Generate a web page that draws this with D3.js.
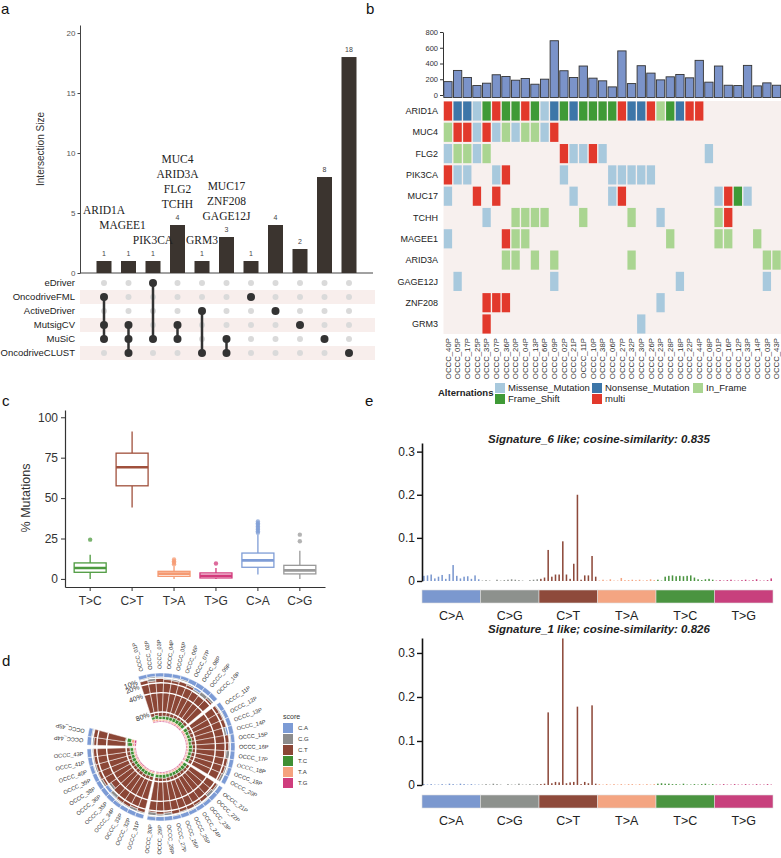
<!DOCTYPE html>
<html><head><meta charset="utf-8">
<script src="https://cdn.jsdelivr.net/npm/d3@7/dist/d3.min.js"></script>
<style>html,body{margin:0;padding:0;background:#fff}</style>
</head><body>
<script>
// ================= DATA =================
// ---- Panel a (UpSet) ----
const upsetSets = ["eDriver","OncodriveFML","ActiveDriver","MutsigCV","MuSiC","OncodriveCLUST"];
const upsetSizes = [1,1,1,4,1,3,1,4,2,8,18];
const upsetMembers = [
  ["OncodriveFML","MutsigCV","MuSiC"],
  ["MutsigCV","MuSiC","OncodriveCLUST"],
  ["eDriver","MuSiC"],
  ["MutsigCV","MuSiC"],
  ["ActiveDriver","OncodriveCLUST"],
  ["MuSiC","OncodriveCLUST"],
  ["OncodriveFML"],["ActiveDriver"],["MutsigCV"],["MuSiC"],["OncodriveCLUST"]];
const upsetGenes = [["ARID1A"],["MAGEE1"],["PIK3CA"],["MUC4","ARID3A","FLG2","TCHH"],["GRM3"],["MUC17","ZNF208","GAGE12J"],[],[],[],[],[]];

// ---- Panel b (oncoplot) ----
const oncoSamples = ["OCCC_40P","OCCC_05P","OCCC_17P","OCCC_25P","OCCC_35P","OCCC_07P","OCCC_36P","OCCC_20P","OCCC_04P","OCCC_13P",
  "OCCC_66P","OCCC_09P","OCCC_02P","OCCC_21P","OCCC_11P","OCCC_10P","OCCC_38P","OCCC_06P","OCCC_27P","OCCC_32P",
  "OCCC_30P","OCCC_26P","OCCC_23P","OCCC_28P","OCCC_18P","OCCC_22P","OCCC_44P","OCCC_08P","OCCC_01P","OCCC_16P",
  "OCCC_12P","OCCC_33P","OCCC_14P","OCCC_03P","OCCC_43P"];
const oncoTotals = [170,312,222,120,150,257,235,188,210,137,201,689,308,222,368,214,180,103,560,145,
  372,278,192,231,261,218,440,163,368,124,120,376,116,154,124];
const oncoTicks = [0,200,400,600,800];
const oncoGenes = ["ARID1A","MUC4","FLG2","PIK3CA","MUC17","TCHH","MAGEE1","ARID3A","GAGE12J","ZNF208","GRM3"];
// M=Missense, N=Nonsense, I=In_Frame, F=Frame_Shift, X=multi, .=none
const oncoCodes = [
  "XNNMFXFFXFMNFNFFFFXNNXIFNXX........",
  "IXXMXMIMIIMX.......................",
  "MIIMI.......XMMXM..........M.......",
  "XMM..MX.....M....MMMMM.............",
  "M..X.X.......M...MX.........MXFM...",
  "....M..IIII...I....I..M.....IX.....",
  "M.....XII..............I....II..I..",
  "......II.I.I.......I.............II",
  ".M.........M............M........M.",
  "....XXX...............M............",
  "....X...............M.............."];
const altCodes = ["M","N","I","F","X"];
const altNames = ["Missense_Mutation","Nonsense_Mutation","In_Frame","Frame_Shift","multi"];
const altColors = ["#a8c9dd","#3d76a8","#aad591","#3f9a36","#e2392c"];

// ---- Panel c (boxplots) ----
const boxCats = ["T>C","C>T","T>A","T>G","C>A","C>G"];
const boxLow = [0,44.2,0,0,2.7,0];
const boxQ1 = [4.1,57.6,1.6,0.6,7.2,3.1];
const boxMed = [6.8,69.1,3.3,2.0,11.5,5.3];
const boxQ3 = [9.9,77.8,4.7,3.7,16.0,8.4];
const boxHigh = [15,91.2,7.8,6.8,27.4,17.5];
const boxOutliers = [[24.3],[],[9,10,11,12],[9.5],[28.5,29.5,30.5,31.5,32.5,33.5,34.5,35.5],[23.3,27.4]];
const boxColors = ["#4d9a3f","#a0503c","#f59a72","#d2397b","#7f9dd6","#9a9a9a"];
const boxTicks = [0,25,50,75,100];

// ---- Panel d (circular stacked bars) ----
const dSamples = ["OCCC_01P","OCCC_02P","OCCC_03P","OCCC_04P","OCCC_05P","OCCC_06P","OCCC_07P","OCCC_08P","OCCC_09P","OCCC_10P",
  "OCCC_11P","OCCC_12P","OCCC_13P","OCCC_14P","OCCC_15P","OCCC_16P","OCCC_17P","OCCC_18P","OCCC_19P","OCCC_20P",
  "OCCC_21P","OCCC_22P","OCCC_23P","OCCC_24P","OCCC_25P","OCCC_26P","OCCC_27P","OCCC_28P","OCCC_29P","OCCC_30P",
  "OCCC_31P","OCCC_32P","OCCC_33P","OCCC_34P","OCCC_35P","OCCC_36P","OCCC_38P","OCCC_39P","OCCC_40P","OCCC_41P",
  "OCCC_43P","OCCC_44P","OCCC_45P"];
const dGapAfter = ["OCCC_10P","OCCC_20P","OCCC_30P","OCCC_43P"];
const dCA = [8,7,8,9,8,7,10,16,12,10, 9,8,9,15,8,9,10,9,8,11, 9,10,8,9,8,9,8,10,9,8, 9,10,9,8,13,18,10,9,8,9, 9,9,8];
const dCG = [4,9,3,4,6,5,4,5,10,5, 4,5,3,6,4,4,8,4,6,5, 5,7,4,5,4,4,4,6,5,9, 4,6,4,5,7,8,5,4,6,4, 4,5,4];
const dCT = [76,70,78,75,74,76,73,66,64,72, 74,75,76,66,77,74,69,75,74,72, 73,70,76,74,76,75,76,71,74,71, 75,72,74,75,68,62,73,74,74,75, 75,69,66];
const dTC = [6,8,6,7,7,7,8,8,9,8, 8,7,7,8,6,8,8,7,7,7, 8,8,7,7,7,7,7,8,7,7, 7,7,8,7,7,7,7,8,7,7, 7,10,12];
const dTA = [4,4,3,3,3,3,3,3,3,3, 3,3,3,3,3,3,3,3,3,3, 3,3,3,3,3,3,3,3,3,3, 3,3,3,3,3,3,3,3,3,3, 3,4,6];
const dTG = [2,2,2,2,2,2,2,2,2,2, 2,2,2,2,2,2,2,2,2,2, 2,2,2,2,2,2,2,2,2,2, 2,2,2,2,2,2,2,2,2,2, 2,3,4];
const dKeys = ["C.A","C.G","C.T","T.C","T.A","T.G"];
const dColors = ["#7c9bd5","#8c8c8c","#8b4636","#3f8f33","#f5a27e","#cf3d7d"];
const dGrid = [0.1,0.2,0.4,0.8];

// ---- Panel e (96-context signatures) ----
const sigGroups = ["C>A","C>G","C>T","T>A","T>C","T>G"];
const sigColors = ["#7b98cf","#8d918d","#8e4a3b","#f4a582","#4a9440","#c8407d"];
const sig6 = [
  0.012,0.013,0.015,0.006,0.010,0.014,0.005,0.016,0.037,0.012,0.006,0.010,0.011,0.005,0.013,0.004,
  0.001,0.002,0.001,0.000,0.003,0.001,0.002,0.003,0.004,0.003,0.002,0.001,0.000,0.002,0.003,0.004,
  0.005,0.008,0.072,0.010,0.015,0.015,0.092,0.015,0.005,0.040,0.200,0.003,0.013,0.013,0.058,0.010,
  0.001,0.003,0.001,0.004,0.001,0.001,0.007,0.002,0.002,0.003,0.002,0.003,0.001,0.002,0.004,0.002,
  0.003,0.001,0.010,0.012,0.013,0.011,0.012,0.011,0.012,0.013,0.008,0.004,0.002,0.004,0.005,0.003,
  0.001,0.002,0.001,0.002,0.003,0.001,0.001,0.002,0.003,0.001,0.002,0.004,0.001,0.001,0.002,0.006];
const sig1 = [
  0.002,0.001,0.002,0.001,0.001,0.002,0.001,0.003,0.002,0.001,0.003,0.002,0.001,0.002,0.001,0.001,
  0.001,0.002,0.001,0.003,0.002,0.001,0.000,0.002,0.001,0.001,0.003,0.001,0.001,0.002,0.001,0.002,
  0.002,0.003,0.165,0.004,0.007,0.006,0.333,0.004,0.006,0.007,0.178,0.002,0.007,0.004,0.181,0.003,
  0.002,0.001,0.002,0.001,0.002,0.001,0.002,0.001,0.002,0.002,0.001,0.002,0.001,0.002,0.001,0.002,
  0.003,0.004,0.003,0.003,0.002,0.002,0.001,0.003,0.001,0.001,0.002,0.001,0.002,0.003,0.001,0.002,
  0.001,0.001,0.002,0.001,0.001,0.002,0.001,0.001,0.002,0.001,0.001,0.002,0.001,0.001,0.002,0.001];
const sigTitles = ["Signature_6 like; cosine-similarity: 0.835","Signature_1 like; cosine-similarity: 0.826"];
const sigTicks = [0,0.1,0.2,0.3];

// ================= DRAWING =================
const SANS = '"Liberation Sans", Arial, Helvetica, sans-serif';
const SERIF = '"Liberation Serif", "Times New Roman", serif';
const svg = d3.select("body").append("svg").attr("width",781).attr("height",858)
  .attr("font-family",SANS).style("display","block");
svg.append("rect").attr("width",781).attr("height",858).attr("fill","#fff");

function styleAxis(g, size, color, lineColor){
  g.attr("font-family",SANS);
  g.select(".domain").attr("stroke",lineColor);
  g.selectAll(".tick line").attr("stroke",lineColor);
  g.selectAll(".tick text").attr("font-size",size).attr("fill",color);
}
function panelLabel(t,x,y){ svg.append("text").attr("x",x).attr("y",y).attr("font-size",15).attr("fill","#111").text(t); }
panelLabel("a",1,14); panelLabel("b",366,14); panelLabel("c",2,406); panelLabel("e",365,406); panelLabel("d",2,666);

// ---------- Panel a ----------
(function(){
  const g = svg.append("g");
  const y = d3.scaleLinear().domain([0,20.67]).range([273,25]);
  const x = d3.scalePoint().domain(d3.range(upsetSizes.length)).range([104,349]);
  const row = d3.scalePoint().domain(upsetSets).range([283,353]);
  g.selectAll("rect.shade").data(upsetSets.filter((s,i)=>i%2===1)).join("rect")
    .attr("x",80).attr("width",295).attr("y",s=>row(s)-7).attr("height",14).attr("fill","#f8eeec");
  const ax = g.append("g").attr("transform","translate(80,0)")
    .call(d3.axisLeft(y).tickValues([0,5,10,15,20]).tickSize(2.5).tickSizeOuter(0).tickPadding(2));
  styleAxis(ax,8,"#555","#444");
  g.append("line").attr("x1",80).attr("x2",373).attr("y1",y(0)).attr("y2",y(0)).attr("stroke","#444");
  g.append("text").attr("transform",`translate(44,${(y(0)+y(20.67))/2}) rotate(-90)`)
    .attr("text-anchor","middle").attr("font-size",10).attr("fill","#333").text("Intersection Size");
  g.selectAll("rect.bar").data(upsetSizes).join("rect")
    .attr("x",(d,i)=>x(i)-7.5).attr("width",15).attr("y",d=>y(d)).attr("height",d=>y(0)-y(d)).attr("fill","#3b342f");
  g.selectAll("text.cnt").data(upsetSizes).join("text")
    .attr("x",(d,i)=>x(i)).attr("y",d=>y(d)-5).attr("text-anchor","middle").attr("font-size",7).attr("fill","#444").text(d=>d);
  const lift = [2,1,0,0,0,0];
  upsetGenes.forEach((genes,i)=>{
    const base = y(upsetSizes[i]) - 5 - 15*((lift[i]||0)+1);
    genes.forEach((gn,k)=>{
      g.append("text").attr("x",x(i)+(i===1?-6:0)).attr("y",base-15*(genes.length-1-k)+3)
        .attr("text-anchor","middle").attr("font-family",SERIF).attr("font-size",11.5).attr("fill","#222").text(gn);
    });
  });
  g.selectAll("text.rl").data(upsetSets).join("text")
    .attr("x",75).attr("y",s=>row(s)).attr("dy","0.35em").attr("text-anchor","end")
    .attr("font-size",9.5).attr("fill","#222").text(s=>s);
  upsetMembers.forEach((mem,i)=>{
    upsetSets.forEach(s=>{
      const on = mem.includes(s);
      g.append("circle").attr("cx",x(i)).attr("cy",row(s)).attr("r",on?4:3).attr("fill",on?"#333":"#dadada");
    });
    if(mem.length>1){
      const ys = mem.map(s=>row(s));
      g.append("line").attr("x1",x(i)).attr("x2",x(i)).attr("y1",d3.min(ys)).attr("y2",d3.max(ys))
        .attr("stroke","#333").attr("stroke-width",2.5);
    }
  });
})();

// ---------- Panel b ----------
(function(){
  const g = svg.append("g");
  const x = d3.scaleBand().domain(oncoSamples).range([443.5,781]).paddingInner(0.14).paddingOuter(0.03);
  const y = d3.scaleLinear().domain([0,800]).range([95,32]);
  const rowY = d3.scaleBand().domain(oncoGenes).range([101,334]).paddingInner(0.1).paddingOuter(0.02);
  const ax = g.append("g").attr("transform","translate(443,0)")
    .call(d3.axisLeft(y).tickValues(oncoTicks).tickSize(3).tickSizeOuter(0).tickPadding(2));
  styleAxis(ax,7.5,"#333","#333");
  g.selectAll("rect.tmb").data(oncoTotals).join("rect")
    .attr("x",(d,i)=>x(oncoSamples[i])).attr("width",x.bandwidth())
    .attr("y",d=>y(d)).attr("height",d=>y(0)-y(d)+2.5)
    .attr("fill","#7b93c9").attr("stroke","#333").attr("stroke-width",0.9);
  g.append("rect").attr("x",443.5).attr("y",101).attr("width",781-443.5).attr("height",233).attr("fill","#f7f0ee");
  const color = d3.scaleOrdinal().domain(altCodes).range(altColors);
  oncoGenes.forEach((gn,r)=>{
    const cells = oncoCodes[r].split("").map((c,i)=>({c,i})).filter(d=>d.c!==".");
    g.selectAll(null).data(cells).join("rect")
      .attr("x",d=>x(oncoSamples[d.i])).attr("width",x.bandwidth())
      .attr("y",rowY(gn)).attr("height",rowY.bandwidth()).attr("fill",d=>color(d.c));
  });
  g.selectAll("text.gn").data(oncoGenes).join("text")
    .attr("x",438).attr("y",d=>rowY(d)+rowY.bandwidth()/2).attr("dy","0.35em").attr("text-anchor","end")
    .attr("font-size",9).attr("fill","#222").text(d=>d);
  g.selectAll("text.smp").data(oncoSamples).join("text")
    .attr("transform",d=>`translate(${x(d)+x.bandwidth()/2},338) rotate(-90)`)
    .attr("dy","0.35em").attr("text-anchor","end").attr("font-size",7.8).attr("fill","#333").text(d=>d);
  g.append("text").attr("x",438).attr("y",396).attr("font-size",9.5).attr("font-weight","bold").attr("fill","#222").text("Alternations");
  const posX = [495,592,693,495,592], posY = [388,388,388,399,399];
  altNames.forEach((n,i)=>{
    g.append("rect").attr("x",posX[i]).attr("y",posY[i]-5).attr("width",10).attr("height",10).attr("fill",altColors[i]);
    g.append("text").attr("x",posX[i]+13).attr("y",posY[i]).attr("dy","0.35em").attr("font-size",9.5).attr("fill","#222").text(n);
  });
})();

// ---------- Panel c ----------
(function(){
  const g = svg.append("g");
  const x = d3.scaleBand().domain(boxCats).range([65,325]).paddingOuter(0.1);
  const y = d3.scaleLinear().domain([-5,104.5]).range([587,410]);
  const axY = g.append("g").attr("transform","translate(65,0)")
    .call(d3.axisLeft(y).tickValues(boxTicks).tickSize(4).tickSizeOuter(0).tickPadding(3));
  styleAxis(axY,12,"#333","#333");
  axY.select(".domain").attr("stroke-width",1.2);
  const axX = g.append("g").attr("transform","translate(0,587)")
    .call(d3.axisBottom(x).tickSize(4).tickSizeOuter(0).tickPadding(5));
  styleAxis(axX,12,"#333","#333");
  axX.select(".domain").attr("stroke-width",1.2);
  g.append("text").attr("transform","translate(30,498) rotate(-90)").attr("text-anchor","middle")
    .attr("font-size",12.5).attr("fill","#333").text("% Mutations");
  const bw = 32;
  boxCats.forEach((c,i)=>{
    const cx = x(c)+x.bandwidth()/2, col = boxColors[i];
    g.append("line").attr("x1",cx).attr("x2",cx).attr("y1",y(boxLow[i])).attr("y2",y(boxQ1[i])).attr("stroke",col).attr("stroke-width",1.3);
    g.append("line").attr("x1",cx).attr("x2",cx).attr("y1",y(boxHigh[i])).attr("y2",y(boxQ3[i])).attr("stroke",col).attr("stroke-width",1.3);
    g.append("rect").attr("x",cx-bw/2).attr("width",bw).attr("y",y(boxQ3[i])).attr("height",y(boxQ1[i])-y(boxQ3[i]))
      .attr("fill","#fff").attr("stroke",col).attr("stroke-width",1.3);
    g.append("line").attr("x1",cx-bw/2).attr("x2",cx+bw/2).attr("y1",y(boxMed[i])).attr("y2",y(boxMed[i])).attr("stroke",col).attr("stroke-width",2.6);
    g.selectAll(null).data(boxOutliers[i]).join("circle").attr("cx",cx).attr("cy",d=>y(d)).attr("r",2.2)
      .attr("fill",col).attr("fill-opacity",0.75);
  });
})();

// ---------- Panel d ----------
(function(){
  const cx=161, cy=747;
  const g = svg.append("g").attr("transform",`translate(${cx},${cy})`);
  const r = d3.scaleLinear().domain([0,1]).range([74,25]);
  const start=-18, end=285, gap=3;
  const step = (end-start-gap*dGapAfter.length)/dSamples.length;
  const rad = a=>a*Math.PI/180;
  let a = start;
  const vals = [dCA,dCG,dCT,dTC,dTA,dTG];
  const arc = d3.arc();
  dSamples.forEach((s,i)=>{
    const a0=a, a1=a+step; a=a1; if(dGapAfter.includes(s)) a+=gap;
    let cum=0;
    vals.forEach((arr,k)=>{
      const v = arr[i]/100;
      g.append("path").attr("d",arc({innerRadius:r(cum+v),outerRadius:r(cum),startAngle:rad(a0),endAngle:rad(a1)}))
        .attr("fill",dColors[k]).attr("stroke","#fff").attr("stroke-width",0.5);
      cum+=v;
    });
    const mid=(a0+a1)/2;
    const flip = mid>=180 && mid<270;
    g.append("text").attr("transform",`rotate(${mid-90}) translate(78,0)${flip?" rotate(180)":""}`)
      .attr("text-anchor",flip?"end":"start").attr("dy","0.35em").attr("font-size",5.6).attr("fill","#333").text(s);
  });
  dGrid.forEach(p=>{
    g.append("path").attr("d",d3.arc()({innerRadius:r(p),outerRadius:r(p),startAngle:rad(start),endAngle:rad(end)}))
      .attr("fill","none").attr("stroke","#fff").attr("stroke-width",1.4);
    g.append("text").attr("transform",`rotate(${start-2-90}) translate(${r(p)},0) rotate(90)`)
      .attr("text-anchor","end").attr("dy","0.35em").attr("font-size",7).attr("fill","#333").text(d3.format(".0%")(p));
  });
  const lg = svg.append("g");
  lg.append("text").attr("x",283).attr("y",719).attr("font-size",7).attr("fill","#333").text("score");
  dKeys.forEach((k,i)=>{
    lg.append("rect").attr("x",283).attr("y",723+i*11).attr("width",10).attr("height",10).attr("fill",dColors[i]);
    lg.append("text").attr("x",298).attr("y",728+i*11).attr("dy","0.35em").attr("font-size",6).attr("fill","#333").text(k);
  });
})();

// ---------- Panel e ----------
(function(){
  const cfgs = [
    {vals:sig6, title:sigTitles[0], y0:581, y1:443, dmax:0.32, titleY:443, stripY:590, labY:620},
    {vals:sig1, title:sigTitles[1], y0:785, y1:638, dmax:0.334, titleY:633, stripY:795, labY:825}];
  const gx = d3.scaleBand().domain(sigGroups).range([422,773]);
  const idx = d3.range(96);
  const bx = d3.scaleBand().domain(idx).range([422,773]);
  cfgs.forEach(cf=>{
    const g = svg.append("g");
    const y = d3.scaleLinear().domain([0,cf.dmax]).range([cf.y0,cf.y1]);
    g.selectAll("rect.b").data(cf.vals).join("rect")
      .attr("x",(d,i)=>bx(i)+bx.bandwidth()*0.3).attr("width",bx.bandwidth()*0.42)
      .attr("y",d=>y(d)).attr("height",d=>y(0)-y(d)).attr("fill",(d,i)=>sigColors[Math.floor(i/16)]);
    const ax = g.append("g").attr("transform","translate(422,0)")
      .call(d3.axisLeft(y).tickValues(sigTicks).tickSize(5).tickSizeOuter(0).tickPadding(2)
        .tickFormat(d=>d===0?"0":d3.format(".1f")(d)));
    styleAxis(ax,12,"#222","#111");
    ax.select(".domain").attr("stroke-width",1.6); ax.selectAll(".tick line").attr("stroke-width",1.4);
    g.selectAll("rect.s").data(sigGroups).join("rect")
      .attr("x",d=>gx(d)).attr("width",gx.bandwidth()).attr("y",cf.stripY).attr("height",13)
      .attr("fill",(d,i)=>sigColors[i]).attr("stroke","#ddd").attr("stroke-width",0.6);
    g.selectAll("text.s").data(sigGroups).join("text")
      .attr("x",d=>gx(d)+gx.bandwidth()/2).attr("y",cf.labY).attr("text-anchor","middle")
      .attr("font-size",12.5).attr("fill","#222").text(d=>d);
    g.append("text").attr("x",599).attr("y",cf.titleY).attr("text-anchor","middle")
      .attr("font-size",11.5).attr("font-weight","bold").attr("font-style","italic").attr("fill","#222").text(cf.title);
  });
})();
</script>
</body></html>
